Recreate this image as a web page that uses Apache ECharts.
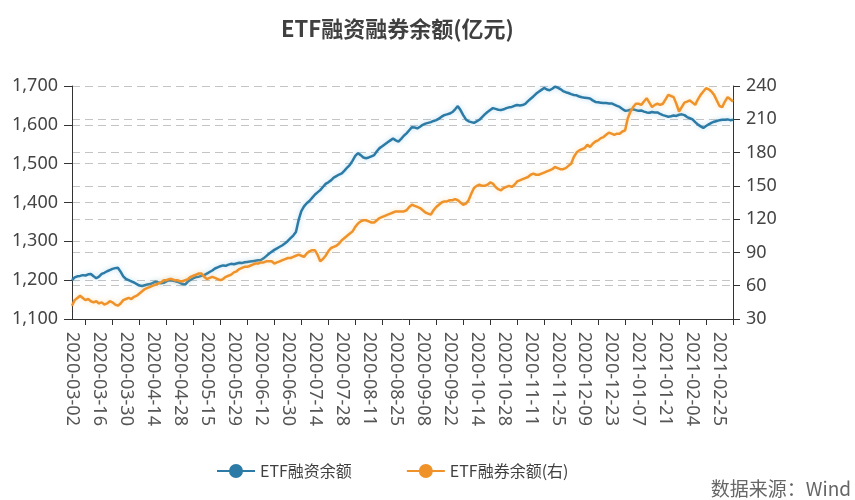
<!DOCTYPE html>
<html>
<head>
<meta charset="utf-8">
<script src="https://cdn.jsdelivr.net/npm/echarts@6/dist/echarts.min.js"></script>
<style>html,body{margin:0;padding:0;background:#fff}#c{width:855px;height:500px}</style>
</head>
<body>
<div id="c"></div>
<script>
// Trading days per month (categories)
const tradingDays = [
  ['2020-03', [2,3,4,5,6,9,10,11,12,13,16,17,18,19,20,23,24,25,26,27,30,31]],
  ['2020-04', [1,2,3,7,8,9,10,13,14,15,16,17,20,21,22,23,24,27,28,29,30]],
  ['2020-05', [6,7,8,11,12,13,14,15,18,19,20,21,22,25,26,27,28,29]],
  ['2020-06', [1,2,3,4,5,8,9,10,11,12,15,16,17,18,19,22,23,24,29,30]],
  ['2020-07', [1,2,3,6,7,8,9,10,13,14,15,16,17,20,21,22,23,24,27,28,29,30,31]],
  ['2020-08', [3,4,5,6,7,10,11,12,13,14,17,18,19,20,21,24,25,26,27,28,31]],
  ['2020-09', [1,2,3,4,7,8,9,10,11,14,15,16,17,18,21,22,23,24,25,28,29,30]],
  ['2020-10', [9,12,13,14,15,16,19,20,21,22,23,26,27,28,29,30]],
  ['2020-11', [2,3,4,5,6,9,10,11,12,13,16,17,18,19,20,23,24,25,26,27,30]],
  ['2020-12', [1,2,3,4,7,8,9,10,11,14,15,16,17,18,21,22,23,24,25,28,29,30,31]],
  ['2021-01', [4,5,6,7,8,11,12,13,14,15,18,19,20,21,22,25,26,27,28,29]],
  ['2021-02', [1,2,3,4,5,8,9,10,18,19,22,23,24,25,26]],
  ['2021-03', [1,2,3,4]]
];

// ETF融资余额 (亿元, left axis)
const financeBalance = [
1200,1207,1210,1211,1213,1212,1215,1216,1210,1205,
1209,1216,1219,1223,1226,1229,1231,1232,1222,1210,
1203,1200,1197,1194,1190,1186,1185,1187,1189,1190,
1193,1196,1194,1192,1193,1197,1200,1199,1198,1196,
1193,1190,1189,1197,1201,1205,1208,1209,1211,1213,
1217,1221,1225,1230,1233,1236,1238,1237,1240,1242,
1241,1243,1245,1244,1246,1247,1248,1249,1250,1251,
1252,1256,1262,1268,1273,1278,1282,1286,1290,1295,
1301,1308,1315,1324,1355,1378,1390,1398,1404,1412,
1420,1426,1432,1440,1448,1452,1457,1464,1468,1472,
1475,1482,1490,1497,1508,1520,1527,1522,1516,1514,
1516,1519,1522,1532,1540,1545,1550,1555,1560,1565,
1560,1557,1564,1572,1578,1586,1594,1593,1591,1595,
1600,1603,1605,1607,1610,1612,1616,1621,1625,1627,
1629,1633,1640,1648,1638,1625,1614,1609,1607,1605,
1609,1613,1620,1627,1633,1638,1643,1641,1639,1638,
1640,1643,1645,1646,1649,1651,1650,1651,1654,1661,
1667,1673,1680,1685,1690,1695,1691,1689,1693,1698,
1696,1692,1687,1684,1682,1679,1677,1676,1673,1671,
1670,1669,1668,1663,1659,1658,1657,1656,1656,1655,
1655,1652,1649,1646,1641,1636,1637,1639,1640,1638,
1636,1637,1634,1632,1631,1633,1632,1632,1628,1625,
1623,1621,1622,1624,1623,1626,1627,1625,1620,1617,
1614,1607,1601,1596,1592,1597,1601,1605,1608,1610,
1612,1613,1613,1614,1612,1613
];

// ETF融券余额 (亿元, right axis)
const lendingBalance = [
42,47,49,51,49,47,48,46,45,46,
44,45,43,44,46,45,43,42,44,47,
48,49,48,50,51,53,55,57,58,59,
60,61,62,63,65,65,66,66,65,65,
64,64,65,66,68,69,70,71,71,68,
66,67,68,67,66,65,66,68,69,70,
72,73,75,76,77,77,78,79,80,80,
81,81,82,82,82,80,81,82,83,84,
85,85,86,87,88,87,86,89,91,92,
92,88,82,84,87,91,94,95,96,98,
101,103,105,107,109,113,116,118,119,119,
118,117,117,119,121,122,123,124,125,126,
127,127,127,127,128,131,133,132,131,130,
128,126,125,124,128,131,133,135,136,136,
137,137,138,137,135,133,134,137,143,148,
150,151,150,150,151,153,152,149,147,146,
148,149,150,149,151,154,155,156,157,158,
160,161,160,160,161,162,163,164,165,167,
166,165,165,166,168,170,176,180,182,183,
184,187,185,188,190,191,193,194,196,198,
197,196,197,197,199,200,211,217,221,224,
224,223,226,229,225,221,223,224,223,224,
228,232,231,230,224,217,221,225,226,227,
225,223,228,232,235,238,237,235,232,227,
222,221,226,230,228,226
];

const leftTicks = [1100, 1700, 100];
const rightTicks = [30, 240, 30];
const seriesNames = ['ETF融资余额', 'ETF融券余额(右)'];

const dates = [];
tradingDays.forEach(([ym, days]) => days.forEach(d => dates.push(ym + '-' + String(d).padStart(2, '0'))));

const chart = echarts.init(document.getElementById('c'), null, {renderer: 'canvas'});
const fontFam = '"Noto Sans", "Noto Sans CJK SC", sans-serif';
const cjk = '"Noto Sans CJK SC", sans-serif';
const gridLine = {show: true, lineStyle: {type: [8, 5], color: '#c4c4c4', width: 1}};
const iconPath = 'path://M0,6H38V8H0Z M12,7A7,7 0 1 1 26,7A7,7 0 1 1 12,7Z';

chart.setOption({
  animation: false,
  backgroundColor: '#fff',
  textStyle: {fontFamily: fontFam},
  title: {
    text: 'ETF融资融券余额(亿元)',
    left: 276, top: 13,
    textStyle: {fontSize: 22, fontWeight: 'bold', color: '#404040', fontFamily: cjk}
  },
  legend: {
    left: 212, top: 458,
    itemWidth: 38, itemHeight: 14, itemGap: 55,
    textStyle: {fontSize: 16, color: '#404040', fontFamily: cjk},
    data: [
      {name: seriesNames[0], icon: iconPath},
      {name: seriesNames[1], icon: iconPath}
    ]
  },
  graphic: [{
    type: 'text', right: 4, top: 479,
    style: {text: '数据来源：Wind', fontSize: 19, fill: '#666', fontFamily: cjk}
  }],
  grid: {left: 72, right: 122, top: 86, bottom: 181, containLabel: false},
  xAxis: {
    type: 'category', boundaryGap: false, data: dates,
    axisLine: {lineStyle: {color: '#333', width: 1}},
    axisTick: {show: true, interval: (i) => i % 10 === 5, length: 6, lineStyle: {color: '#333'}},
    axisLabel: {interval: (i) => i % 10 === 0, rotate: -90, fontSize: 18, color: '#555', margin: 13},
    splitLine: {show: false}
  },
  yAxis: [{
    type: 'value', min: leftTicks[0], max: leftTicks[1], interval: leftTicks[2],
    axisLine: {show: true, lineStyle: {color: '#333'}},
    axisTick: {show: true, length: 8, lineStyle: {color: '#333'}},
    axisLabel: {fontSize: 18, color: '#444', margin: 14, formatter: v => v.toLocaleString('en-US')},
    splitLine: gridLine
  }, {
    type: 'value', position: 'right', min: rightTicks[0], max: rightTicks[1], interval: rightTicks[2],
    axisLine: {show: true, lineStyle: {color: '#333'}},
    axisTick: {show: true, length: 7, lineStyle: {color: '#333'}},
    axisLabel: {fontSize: 18, color: '#444', margin: 13},
    splitLine: gridLine
  }],
  series: [{
    name: seriesNames[0], type: 'line', yAxisIndex: 0, data: financeBalance,
    showSymbol: false, symbol: 'none', color: '#2B7BA6',
    lineStyle: {width: 2.5, color: '#2B7BA6', shadowColor: 'rgba(120,190,230,0.5)', shadowBlur: 5}
  }, {
    name: seriesNames[1], type: 'line', yAxisIndex: 1, data: lendingBalance,
    showSymbol: false, symbol: 'none', color: '#F0922A',
    lineStyle: {width: 2.5, color: '#F0922A', shadowColor: 'rgba(250,200,120,0.5)', shadowBlur: 5}
  }]
});
</script>
</body>
</html>
